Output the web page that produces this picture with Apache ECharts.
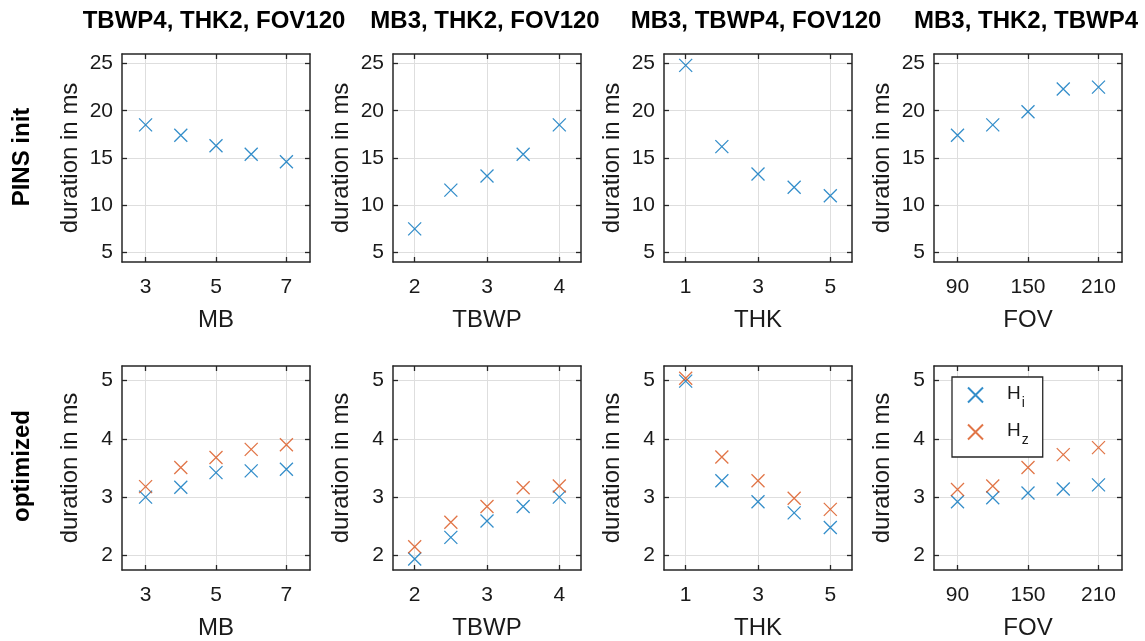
<!DOCTYPE html>
<html>
<head>
<meta charset="utf-8">
<script src="https://cdn.jsdelivr.net/npm/echarts@6/dist/echarts.min.js"></script>
<style>html,body{margin:0;padding:0;background:#fff;} #c_chart{width:1145px;height:641px;}</style>
</head>
<body>
<div id="c_chart"></div>
<script>
// column / row texts
const colTitles = ['TBWP4, THK2, FOV120', 'MB3, THK2, FOV120', 'MB3, TBWP4, FOV120', 'MB3, THK2, TBWP4'];
const rowLabels = ['PINS init', 'optimized'];
const xNames = ['MB', 'TBWP', 'THK', 'FOV'];

// x values per column
const mbVals = [3, 4, 5, 6, 7];
const tbwpVals = [2, 2.5, 3, 3.5, 4];
const thkVals = [1, 2, 3, 4, 5];
const fovVals = [90, 120, 150, 180, 210];

// PINS init durations (ms)
const initMB = [18.5, 17.4, 16.3, 15.4, 14.6];
const initTBWP = [7.5, 11.6, 13.1, 15.4, 18.5];
const initTHK = [24.8, 16.2, 13.3, 11.9, 11.0];
const initFOV = [17.4, 18.5, 19.9, 22.3, 22.5];

// optimized durations (ms)
const hiMB = [3.0, 3.17, 3.42, 3.45, 3.48];
const hiTBWP = [1.94, 2.31, 2.59, 2.84, 3.0];
const hiTHK = [4.99, 3.28, 2.92, 2.73, 2.48];
const hiFOV = [2.92, 2.99, 3.07, 3.14, 3.21];
const hzMB = [3.18, 3.51, 3.68, 3.82, 3.90];
const hzTBWP = [2.15, 2.57, 2.84, 3.16, 3.19];
const hzTHK = [5.04, 3.69, 3.28, 2.98, 2.79];
const hzFOV = [3.13, 3.19, 3.51, 3.73, 3.85];

// ticks and ranges
const xTicks = [[3, 5, 7], [2, 3, 4], [1, 3, 5], [90, 150, 210]];
const xRanges = [[2.33, 7.67], [1.7, 4.3], [0.4, 5.6], [70, 230]];
const yTicksInit = [5, 10, 15, 20, 25];
const yRangeInit = [4, 26];
const yTicksOpt = [2, 3, 4, 5];
const yRangeOpt = [1.75, 5.25];

const xVals = [mbVals, tbwpVals, thkVals, fovVals];
const initVals = [initMB, initTBWP, initTHK, initFOV];
const hiVals = [hiMB, hiTBWP, hiTHK, hiFOV];
const hzVals = [hzMB, hzTBWP, hzTHK, hzFOV];

var dm = document.getElementById('c_chart');
var ch = echarts.init(dm);

const colLeft = [122, 393, 664, 934];
const colW = 188;
const rowTop = [54, 366];
const rowH = [208, 207];

const ink = '#262626';
const blue = '#0072BD';
const orange = '#D95319';
const fnt = 'Liberation Sans, Arial, sans-serif';
const cross = 'path://M0,0L10,10M10,0L0,10';

var grids = [], xAxes = [], yAxes = [], series = [], graphics = [];

function mkAxis(g, pos, range, ticks, main, name) {
    var a = {
        gridIndex: g, type: 'value', position: pos,
        min: range[0], max: range[1],
        axisLine: {show: true, onZero: false, lineStyle: {color: ink, width: 1.5}},
        axisTick: {show: true, inside: true, length: 5, customValues: ticks, lineStyle: {color: ink, width: 1.3}},
        axisLabel: {show: main, customValues: ticks, fontSize: 21, color: '#1a1a1a', fontFamily: fnt},
        splitLine: {show: main, lineStyle: {color: '#dedede', width: 1}}
    };
    if (main) {
        a.name = name;
        a.nameLocation = 'middle';
        a.nameTextStyle = {fontSize: 24, color: '#1a1a1a', fontFamily: fnt};
    }
    return a;
}

for (var r = 0; r < 2; r++) {
    for (var c = 0; c < 4; c++) {
        var g = grids.length;
        grids.push({left: colLeft[c], top: rowTop[r], width: colW, height: rowH[r]});
        var yr = r == 0 ? yRangeInit : yRangeOpt;
        var yt = r == 0 ? yTicksInit : yTicksOpt;
        var xi = xAxes.length, yi = yAxes.length;
        var xa = mkAxis(g, 'bottom', xRanges[c], xTicks[c], true, xNames[c]);
        xa.nameGap = 46;
        xa.axisLabel.margin = 15;
        xAxes.push(xa);
        xAxes.push(mkAxis(g, 'top', xRanges[c], xTicks[c], false));
        var ya = mkAxis(g, 'left', yr, yt, true, 'duration in ms');
        ya.nameGap = 40;
        ya.axisLabel.margin = 9;
        yAxes.push(ya);
        yAxes.push(mkAxis(g, 'right', yr, yt, false));

        var sets = r == 0 ? [['PINS init', initVals[c], blue]] : [['Hi', hiVals[c], blue], ['Hz', hzVals[c], orange]];
        sets.forEach(function (s) {
            series.push({
                type: 'scatter', name: s[0], xAxisIndex: xi, yAxisIndex: yi,
                data: xVals[c].map(function (x, i) { return [x, s[1][i]]; }),
                symbol: cross, symbolSize: 13,
                itemStyle: {color: 'rgba(0,0,0,0)', borderColor: s[2], borderWidth: 1.3},
                emphasis: {disabled: true}
            });
        });
    }
}

colTitles.forEach(function (t, c) {
    graphics.push({type: 'text', x: colLeft[c] + colW / 2 - 2, y: 21,
        style: {text: t, fontSize: 24, fontWeight: 'bold', fontFamily: fnt, fill: '#000', align: 'center', verticalAlign: 'middle'}});
});
[157, 466].forEach(function (yy, r) {
    graphics.push({type: 'text', x: 22, y: yy, rotation: Math.PI / 2,
        style: {text: rowLabels[r], fontSize: 24, fontWeight: 'bold', fontFamily: fnt, fill: '#000', align: 'center', verticalAlign: 'middle'}});
});

option = {
    animation: false,
    textStyle: {fontFamily: fnt},
    grid: grids,
    xAxis: xAxes,
    yAxis: yAxes,
    legend: {
        data: ['Hi', 'Hz'],
        orient: 'vertical', left: 952, top: 377,
        padding: [7, 14, 10, 15], itemGap: 11,
        itemWidth: 15, itemHeight: 15,
        borderColor: ink, borderWidth: 1.3, backgroundColor: '#fff',
        selectedMode: false,
        formatter: function (n) { return '{h|H}{s|' + n.slice(1) + '}'; },
        textStyle: {
            rich: {
                h: {fontSize: 19, color: '#1a1a1a', fontFamily: fnt, padding: [0, 0, 0, 19], verticalAlign: 'top', lineHeight: 22},
                s: {fontSize: 14, color: '#1a1a1a', fontFamily: fnt, padding: [12, 0, 0, 1], verticalAlign: 'top', lineHeight: 14}
            }
        }
    },
    graphic: graphics,
    series: series
};

ch.setOption(option);
window.onresize = function () {
    ch.resize();
};
</script>
</body>
</html>
